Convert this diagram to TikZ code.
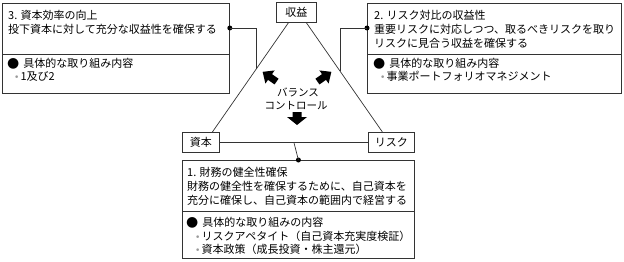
\documentclass[tikz,border=0pt]{standalone}
\usepackage{fontspec}
\setmainfont{Noto Sans CJK JP}
\newfontfamily\dejavu{DejaVu Sans}
\usetikzlibrary{calc}
\newcommand{\subdot}{{\dejavu\fontsize{9}{9}\selectfont\textcolor{black!40}{•}}\hspace{1pt}}
\newcommand{\bigdot}{{\dejavu\fontsize{14}{14}\selectfont ●}\hspace{4pt}}
\begin{document}
\begin{tikzpicture}[x=1pt,y=-1pt,
  box/.style={draw=black!80, line width=0.8pt, inner sep=0, anchor=north west, font=\fontsize{11}{13}\selectfont},
  ln/.style={draw=black!80, line width=0.7pt},
  txt/.style={anchor=base west, inner sep=0, font=\fontsize{11}{13}\selectfont},
  ctxt/.style={anchor=base, inner sep=0, font=\fontsize{10.5}{12}\selectfont},
  dotm/.style={circle, fill=black, inner sep=0, minimum size=5pt},
  blk/.style={fill=black}]
\useasboundingbox (0,0) rectangle (624,262);

% top-left box 3
\node[box, minimum width=227pt, minimum height=90pt] (b3) at (2,3) {};
\draw[ln] (b3.west |- 0,54) -- (b3.east |- 0,54);
\node[txt] (t31) at (8,20) {3. 資本効率の向上};
\node[txt] (t32) at (8,34) {投下資本に対して充分な収益性を確保する};
\node[txt] (t33) at (7,67) {\bigdot 具体的な取り組み内容};
\node[txt] (t34) at (14,81) {\subdot 1及び2};

% top-right box 2
\node[box, minimum width=254pt, minimum height=90pt] (b2) at (367,3) {};
\draw[ln] (b2.west |- 0,54) -- (b2.east |- 0,54);
\node[txt] (t21) at (374,20) {2. リスク対比の収益性};
\node[txt] (t22) at (374,34) {重要リスクに対応しつつ、取るべきリスクを取り};
\node[txt] (t23) at (374,48) {リスクに見合う収益を確保する};
\node[txt] (t24) at (373,67) {\bigdot 具体的な取り組み内容};
\node[txt] (t25) at (380,81) {\subdot 事業ポートフォリオマネジメント};

% triangle nodes
\node[box, minimum width=40pt, minimum height=20pt] (sy) at (276,2) {収益};
\node[box, minimum width=37pt, minimum height=20pt] (sh) at (182,132) {資本};
\node[box, minimum width=46pt, minimum height=20pt] (rk) at (368,132) {リスク};

% bottom box 1
\node[box, minimum width=232pt, minimum height=98pt] (b1) at (182,160) {};
\draw[ln] (b1.west |- 0,211) -- (b1.east |- 0,211);
\node[txt] (t11) at (187,176) {1. 財務の健全性確保};
\node[txt] (t12) at (187,190) {財務の健全性を確保するために、自己資本を};
\node[txt] (t13) at (187,204) {充分に確保し、自己資本の範囲内で経営する};
\node[txt] (t14) at (186,226) {\bigdot 具体的な取り組みの内容};
\node[txt] (t15) at (195,240) {\subdot リスクアペタイト（自己資本充実度検証）};
\node[txt] (t16) at (195,253) {\subdot 資本政策（成長投資・株主還元）};

% triangle sides
\coordinate (la) at ($(sy.south)+(-8,0)$);
\coordinate (lb) at ($(sh.north)+(11.5,0)$);
\coordinate (ra) at ($(sy.south)+(10,0)$);
\coordinate (rb) at ($(rk.north)+(-9,0)$);
\draw[ln] (la) -- (lb);
\draw[ln] (ra) -- (rb);
\draw[ln] (sh.east) -- (rk.west);

% links to boxes
\node[dotm] (d3) at (b3.east |- 0,28) {};
\coordinate (v3a) at (256,0);
\coordinate (v3b) at (256,200);
\coordinate (p3) at (intersection of la--lb and v3a--v3b);
\draw[ln] (d3.center) -| (p3);

\node[dotm] (d2) at (b2.west |- 0,28) {};
\coordinate (v2a) at (340,0);
\coordinate (v2b) at (340,200);
\coordinate (p2) at (intersection of ra--rb and v2a--v2b);
\draw[ln] (d2.center) -| (p2);

\node[dotm] (d1) at (b1.north) {};
\coordinate (hm) at ($(sh.east)!0.5!(rk.west)$);
\draw[ln] (hm) -- (d1.center);

% balance control
\node[ctxt] (bal1) at (298,96) {バランス};
\node[ctxt] (bal2) at (296,109) {コントロール};

\begin{scope}[shift={(270,77)}, rotate=145]
  \fill[blk] (-8,-3.5) -- (0,-3.5) -- (0,-8) -- (9,0) -- (0,8) -- (0,3.5) -- (-8,3.5) -- cycle;
\end{scope}
\begin{scope}[shift={(324,77)}, rotate=35]
  \fill[blk] (-8,-3.5) -- (0,-3.5) -- (0,-8) -- (9,0) -- (0,8) -- (0,3.5) -- (-8,3.5) -- cycle;
\end{scope}
\begin{scope}[shift={(297,117)}, rotate=-90]
  \fill[blk] (-5,-4.5) -- (0,-4.5) -- (0,-10) -- (8,0) -- (0,10) -- (0,4.5) -- (-5,4.5) -- cycle;
\end{scope}
\end{tikzpicture}
\end{document}
